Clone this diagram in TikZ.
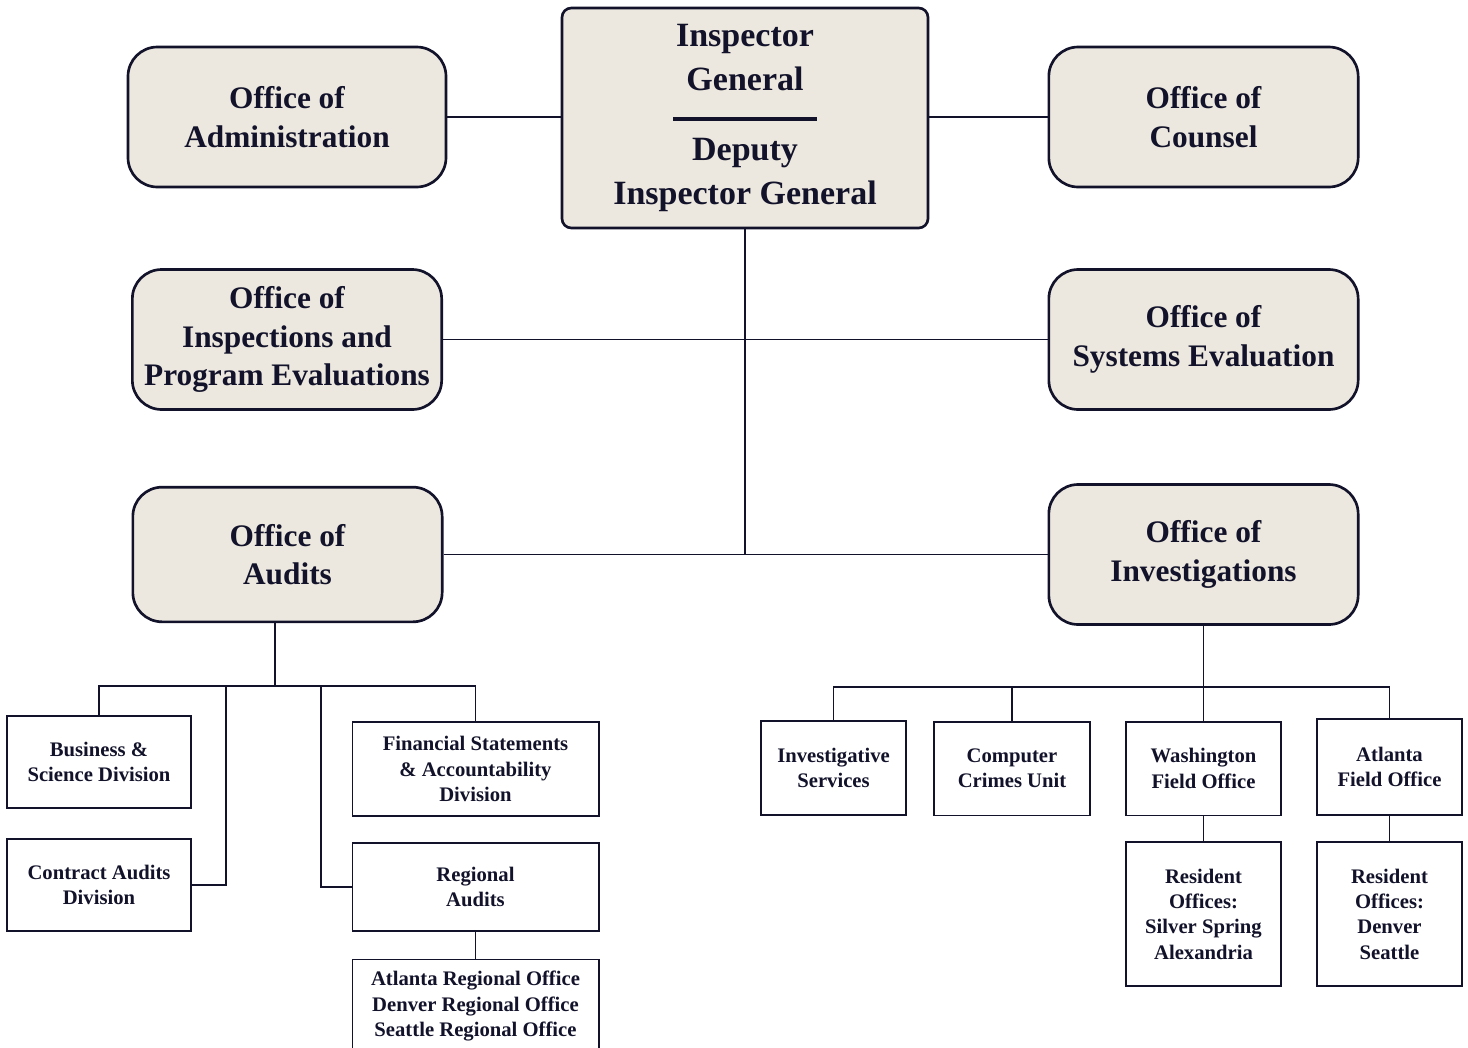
\documentclass[tikz,border=0pt]{standalone}
\usepackage{fontspec}
\setmainfont{Liberation Serif}
\usepackage{xcolor}
\usepackage{tikz}
\usetikzlibrary{positioning}

\definecolor{boxfill}{HTML}{ECE8DF}
\definecolor{inkline}{HTML}{12122A}

\begin{document}
\begin{tikzpicture}[
    x=0.75pt, y=-0.75pt,
    every node/.style={text=inkline},
    topbox/.style={rectangle, draw=inkline, line width=2pt, fill=boxfill, rounded corners=7pt, align=center, minimum width=274.5pt, minimum height=165pt, inner sep=0pt},
    office/.style={rectangle, draw=inkline, line width=2pt, fill=boxfill, rounded corners=22pt, align=center, minimum width=232pt, minimum height=105pt, inner sep=0pt, font=\fontsize{23.5}{29}\selectfont\bfseries},
    unit/.style={rectangle, draw=inkline, line width=1pt, fill=white, align=center, inner sep=0pt, font=\fontsize{15.5}{19}\selectfont\bfseries},
    link/.style={draw=inkline, line width=0.9pt}
]
\useasboundingbox (0,0) rectangle (1468,1047);

% Top level
\node[topbox, font=\fontsize{25.5}{33}\selectfont\bfseries] (ig) at (745,118) {Inspector\\General\\[-10pt]\rule{108pt}{3pt}\\[-3pt]Deputy\\Inspector General};
\node[office, minimum width=238.5pt] (admin) at (287,117) {Office of\\Administration};
\node[office] (counsel) at (1203.5,117) {Office of\\Counsel};

% Offices
\node[office] (inspect) at (287,339.5) {Office of\\Inspections and\\Program Evaluations};
\node[office] (syseval) at (1203.5,339.5) {Office of\\Systems Evaluation};
\node[office, minimum height=101pt] (audits) at (287.5,554.5) {Office of\\Audits};
\node[office] (invest) at (1203.5,554.5) {Office of\\Investigations};

% Audit units
\node[unit, minimum width=138pt, minimum height=69pt] (busdiv) at (99,762) {Business \&\\Science Division};
\node[unit, minimum width=138pt, minimum height=69pt] (contdiv) at (99,885) {Contract Audits\\Division};
\node[unit, minimum width=185pt, minimum height=70.5pt] (finsdiv) at (475.5,769) {Financial Statements\\\& Accountability\\Division};
\node[unit, minimum width=185pt, minimum height=66pt] (regaud) at (475.5,887) {Regional\\Audits};
\node[unit, minimum width=185pt, minimum height=70pt] (regoff) at (475.5,1006) {Atlanta Regional Office\\Denver Regional Office\\Seattle Regional Office};

% Investigation units
\node[unit, minimum width=108.75pt, minimum height=70.5pt] (invsvc) at (833.5,768) {Investigative\\Services};
\node[unit, minimum width=117pt, minimum height=70pt] (compcr) at (1012,768.5) {Computer\\Crimes Unit};
\node[unit, minimum width=116.25pt, minimum height=70pt] (washfo) at (1203.5,768.5) {Washington\\Field Office};
\node[unit, minimum width=108.75pt, minimum height=72pt] (atlfo) at (1389.5,767) {Atlanta\\Field Office};
\node[unit, minimum width=116.25pt, minimum height=108pt] (washro) at (1203.5,914) {Resident\\Offices:\\Silver Spring\\Alexandria};
\node[unit, minimum width=108.75pt, minimum height=108pt] (atlro) at (1389.5,914) {Resident\\Offices:\\Denver\\Seattle};

% Bus points
\coordinate (abar) at (275,686);
\coordinate (abarl) at (226,686);
\coordinate (abarr) at (321,686);
\coordinate (ibar) at (1203.5,687);

% Relationships
\draw[link] (admin.east) -- (admin.east -| ig.west);
\draw[link] (counsel.west) -- (counsel.west -| ig.east);
\draw[link] (ig.south) -- (ig.south |- audits.east);
\draw[link] (inspect.east) -- (syseval.west);
\draw[link] (audits.east) -- (invest.west);

\draw[link] (audits.south -| abar) -- (abar);
\draw[link] (busdiv.north) |- (abar) -| (finsdiv.north);
\draw[link] (contdiv.east) -| (abarl);
\draw[link] (regaud.west) -| (abarr);
\draw[link] (regaud) -- (regoff);

\draw[link] (invest.south) -- (washfo.north);
\draw[link] (invsvc.north) |- (ibar) -| (atlfo.north);
\draw[link] (compcr.north) -- (compcr.north |- ibar);
\draw[link] (washfo) -- (washro);
\draw[link] (atlfo) -- (atlro);

\end{tikzpicture}
\end{document}
